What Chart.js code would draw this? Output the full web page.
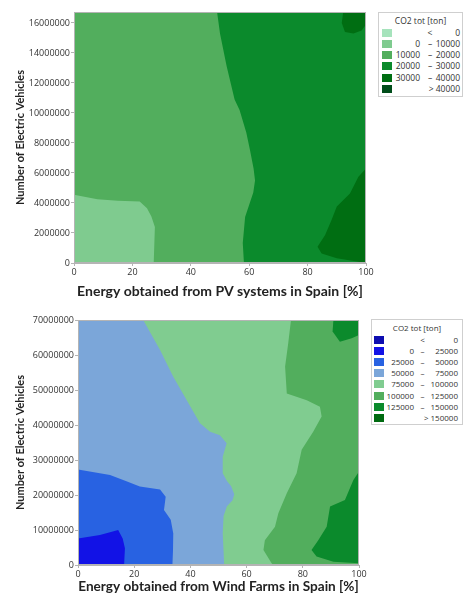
<!DOCTYPE html>
<html><head><meta charset="utf-8">
<script src="https://cdn.jsdelivr.net/npm/chart.js@4.4.1/dist/chart.umd.min.js"></script>
<style>
html,body{margin:0;padding:0;background:#fff;}
body{width:463px;height:597px;position:relative;overflow:hidden;font-family:"Open Sans",sans-serif;}
.wrap{position:absolute;left:0;width:463px;}
.lg{position:absolute;border:1px solid #cfcfcf;box-sizing:border-box;background:#fff;color:#333;}
.lg span{position:absolute;line-height:10px;white-space:nowrap;}
.lg i{position:absolute;display:block;width:10px;height:8px;}
</style></head>
<body>
<div class="wrap" style="top:0;height:300px"><canvas id="c1"></canvas></div>
<div class="wrap" style="top:300px;height:297px"><canvas id="c2"></canvas></div>
<div class="lg" id="lg1" style="left:378px;top:12px;width:85px;height:85px;font-size:8.5px"></div>
<div class="lg" id="lg2" style="left:371px;top:319px;width:92px;height:106px;font-size:8px"></div>
<script>
// ---------- data: top chart (PV) ----------
const pvYMax = 16730000;
const pvXTicks = [0, 20, 40, 60, 80, 100];
const pvYTicks = [0, 2000000, 4000000, 6000000, 8000000, 10000000, 12000000, 14000000, 16000000];
const pvLegendTitle = 'CO2 tot [ton]';
const pvLegend = [['', '<', '0'], ['0', '–', '10000'], ['10000', '–', '20000'], ['20000', '–', '30000'], ['30000', '–', '40000'], ['', '', '> 40000']];
const pvColors = ['#a6e3bc', '#7fcb8f', '#52ae5d', '#0b8a2c', '#006e12', '#004d1a'];
// contour regions (x %, y vehicles), painted in order
const pvBand10to20 = [[0, 0], [100, 0], [100, 16730000], [0, 16730000]];
const pvBand0to10 = [[0, 0], [27.3, 0], [27.7, 2400000], [26.5, 3100000], [25, 3650000], [22.5, 4100000], [15, 4150000], [8, 4250000], [0, 4550000]];
const pvBand20to30 = [[49, 16730000], [50, 15300000], [52.3, 13100000], [55, 10900000], [56.7, 10200000], [59, 8700000], [60.3, 7500000], [61.5, 6300000], [62, 5500000], [61.4, 4700000], [58.6, 3070000], [57.8, 1330000], [58.2, 0], [100, 0], [100, 16730000]];
const pvBand30to40a = [[92.2, 16730000], [91.7, 16000000], [92.8, 15400000], [95.7, 15300000], [98.5, 15500000], [100, 15900000], [100, 16730000]];
const pvBand30to40b = [[100, 6300000], [97.4, 5750000], [94.5, 4640000], [90, 3760000], [88.2, 2870000], [86, 1870000], [83.4, 1090000], [84.8, 640000], [90, 310000], [100, 0]];

// ---------- data: bottom chart (Wind) ----------
const wfYMax = 70000000;
const wfXTicks = [0, 20, 40, 60, 80, 100];
const wfYTicks = [0, 10000000, 20000000, 30000000, 40000000, 50000000, 60000000, 70000000];
const wfLegendTitle = 'CO2 tot [ton]';
const wfLegend = [['', '<', '0'], ['0', '–', '25000'], ['25000', '–', '50000'], ['50000', '–', '75000'], ['75000', '–', '100000'], ['100000', '–', '125000'], ['125000', '–', '150000'], ['', '', '> 150000']];
const wfColors = ['#0d0db0', '#1212e6', '#2862e2', '#7ba6d9', '#80cc90', '#52ae5d', '#0b8a2c', '#006a10'];
const wfBand50to75 = [[0, 0], [100, 0], [100, 70000000], [0, 70000000]];
const wfBand75to100 = [[23.2, 70000000], [29.2, 61400000], [33.9, 53800000], [38.7, 47100000], [43.4, 40500000], [47, 38100000], [50.5, 37100000], [52.9, 34800000], [51.5, 30900000], [51.5, 26200000], [53, 24000000], [54.5, 22500000], [55.6, 20200000], [55, 18500000], [53, 16800000], [51.8, 14000000], [51.5, 9000000], [51.8, 4000000], [52, 0], [100, 0], [100, 70000000]];
const wfBand25to50 = [[0, 0], [0, 27300000], [11.4, 25700000], [17, 24000000], [22, 22400000], [29.2, 21600000], [31.2, 19500000], [30.6, 15700000], [33, 12900000], [33.9, 9000000], [33.8, 4000000], [33.6, 0]];
const wfBand0to25 = [[0, 0], [0, 7600000], [7.8, 8600000], [14.3, 10000000], [15.9, 7600000], [16.7, 4800000], [16.4, 0]];
const wfBand100to125 = [[75.8, 70000000], [74.8, 63300000], [73.7, 56700000], [74.3, 49000000], [81.4, 47100000], [86.1, 45200000], [86.7, 42400000], [83.7, 38100000], [79.6, 32900000], [77.8, 26200000], [74.3, 20500000], [71.3, 14800000], [70.1, 10900000], [66.5, 7100000], [66, 4300000], [68.9, 500000], [69.5, 0], [100, 0], [100, 70000000]];
const wfBand125to150a = [[100, 26700000], [98, 24300000], [95, 18600000], [89.7, 16700000], [88.5, 10900000], [85.5, 7100000], [83.1, 4300000], [84.9, 2400000], [90.9, 950000], [100, 500000]];
const wfBand125to150b = [[90.9, 70000000], [90.6, 66700000], [93.2, 63800000], [97.4, 64800000], [100, 65700000], [100, 70000000]];

// ---------- helpers ----------
const toPts = arr => arr.map(p => ({x: p[0], y: p[1]}));
const polyFill = {
  id: 'polyFill',
  beforeDatasetsDraw(chart) {
    const ctx = chart.ctx, a = chart.chartArea;
    ctx.save();
    ctx.beginPath(); ctx.rect(a.left, a.top, a.right - a.left, a.bottom - a.top); ctx.clip();
    chart.data.datasets.forEach((ds, i) => {
      const pts = chart.getDatasetMeta(i).data;
      ctx.beginPath();
      pts.forEach((p, j) => j ? ctx.lineTo(p.x, p.y) : ctx.moveTo(p.x, p.y));
      ctx.closePath();
      ctx.fillStyle = ds.backgroundColor;
      ctx.fill();
    });
    ctx.restore();
  },
  afterDatasetsDraw(chart) {
    const ctx = chart.ctx, a = chart.chartArea;
    ctx.save();
    ctx.strokeStyle = '#b4b4b4'; ctx.lineWidth = 1;
    ctx.strokeRect(Math.round(a.left) + 0.5, Math.round(a.top) + 0.5, Math.round(a.right - a.left) - 1, Math.round(a.bottom - a.top) - 1);
    ctx.restore();
  }
};
const tickFont = {family: '"Open Sans", sans-serif', size: 9};
function makeChart(id, bands, colors, xTicks, yTicks, yMax, xTitle, xTitleSize, pad, yW, xH, xTitlePad) {
  return new Chart(document.getElementById(id), {
    type: 'scatter',
    data: {datasets: bands.map((b, i) => ({data: toPts(b), backgroundColor: colors[i], pointRadius: 0, showLine: false}))},
    options: {
      responsive: true, maintainAspectRatio: false, animation: false,
      layout: {padding: pad},
      plugins: {legend: {display: false}, tooltip: {enabled: false}},
      events: [],
      scales: {
        x: {
          type: 'linear', min: 0, max: 100,
          afterBuildTicks: s => { s.ticks = xTicks.map(v => ({value: v})); },
          afterFit: s => { s.height = xH; },
          ticks: {font: tickFont, color: '#333', padding: 1, maxRotation: 0},
          grid: {drawOnChartArea: false, drawTicks: true, tickLength: 3, color: '#b4b4b4'},
          border: {color: '#b4b4b4'},
          title: {display: true, text: xTitle, color: '#222', font: {family: 'Lato, sans-serif', size: xTitleSize, weight: 'bold'}, padding: {top: 0, bottom: xTitlePad}}
        },
        y: {
          type: 'linear', min: 0, max: yMax,
          afterBuildTicks: s => { s.ticks = yTicks.map(v => ({value: v})); },
          afterFit: s => { s.width = yW; },
          ticks: {font: tickFont, color: '#333', padding: 1, callback: v => String(v)},
          grid: {drawOnChartArea: false, drawTicks: true, tickLength: 3, color: '#b4b4b4'},
          border: {color: '#b4b4b4'},
          title: {display: true, text: 'Number of Electric Vehicles', color: '#222', font: {family: 'Lato, sans-serif', size: 11, weight: 'bold'}, padding: {top: 14, bottom: 0}}
        }
      }
    },
    plugins: [polyFill]
  });
}
makeChart('c1',
  [pvBand10to20, pvBand0to10, pvBand20to30, pvBand30to40a, pvBand30to40b],
  [pvColors[2], pvColors[1], pvColors[3], pvColors[4], pvColors[4]],
  pvXTicks, pvYTicks, pvYMax, 'Energy obtained from PV systems in Spain [%]', 14,
  {left: 0, right: 97, top: 12, bottom: 0}, 74, 37, 0);
makeChart('c2',
  [wfBand50to75, wfBand75to100, wfBand25to50, wfBand0to25, wfBand100to125, wfBand125to150a, wfBand125to150b],
  [wfColors[3], wfColors[4], wfColors[2], wfColors[1], wfColors[5], wfColors[6], wfColors[6]],
  wfXTicks, wfYTicks, wfYMax, 'Energy obtained from Wind Farms in Spain [%]', 13.6,
  {left: 0, right: 104, top: 20, bottom: 0}, 78, 32, 2);

function buildLegend(id, title, rows, colors, g) {
  const el = document.getElementById(id);
  const w = el.offsetWidth;
  let h = `<span style="left:0;width:${w - 2}px;text-align:center;top:${g.titleY - 5}px">${title}</span>`;
  rows.forEach((r, i) => {
    const yc = g.row0 + i * g.step;
    h += `<i style="left:${g.sw}px;top:${yc - 4}px;background:${colors[i]}"></i>`;
    if (r[0]) h += `<span style="right:${w - g.c1}px;top:${yc - 5}px">${r[0]}</span>`;
    if (r[1]) h += `<span style="left:${g.c2 - 10}px;width:20px;text-align:center;top:${yc - 5}px">${r[1]}</span>`;
    h += `<span style="right:${w - g.c3}px;top:${yc - 5}px">${r[2]}</span>`;
  });
  el.innerHTML = h;
}
buildLegend('lg1', pvLegendTitle, pvLegend, pvColors, {titleY: 8, row0: 19.5, step: 11.3, sw: 3, c1: 43, c2: 51, c3: 83});
buildLegend('lg2', wfLegendTitle, wfLegend, wfColors, {titleY: 8, row0: 19.5, step: 11.2, sw: 2, c1: 44, c2: 50.5, c3: 88});
</script>
</body></html>
